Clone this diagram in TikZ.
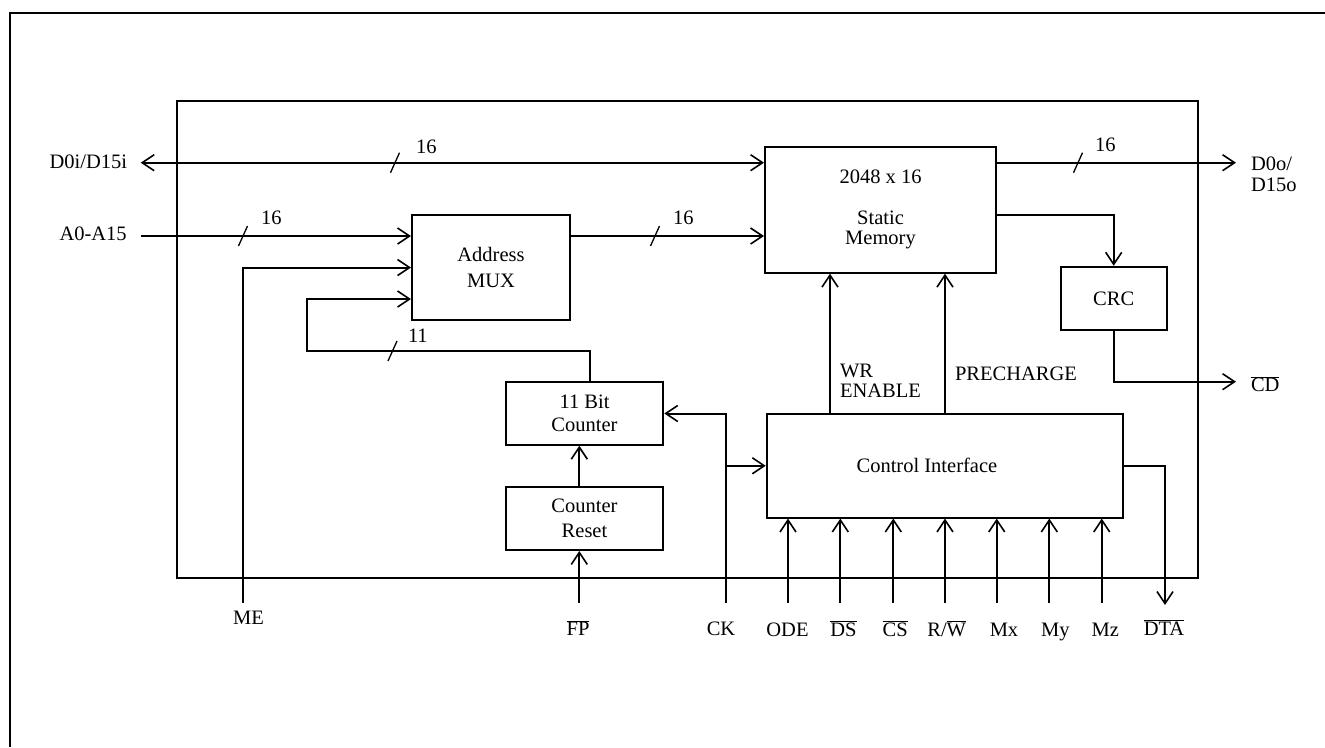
\documentclass[tikz,border=0pt]{standalone}
\usepackage{fontspec}
\setmainfont{Liberation Serif}
\usetikzlibrary{arrows.meta}
\begin{document}
\begin{tikzpicture}[x=1pt,y=-1pt,
  line width=2pt,
  >={Straight Barb[length=12pt,width=16pt,line width=1.6pt]},
  blk/.style={draw, rectangle, inner sep=0pt, align=center, font=\fontsize{20.5}{23}\selectfont},
  txt/.style={inner sep=0pt, font=\fontsize{20.5}{23}\selectfont},
  busslash/.pic={\draw[line width=1.3pt] (-4.5,10) -- (4.5,-10);},
]
\useasboundingbox (0,0) rectangle (1325,747);
% outer frame
\draw[line width=2pt] (10,747) -- (10,13) -- (1325,13);
% chip outline
\node[draw, inner sep=0pt, minimum width=1021, minimum height=477, anchor=north west] (chip) at (176,100) {};
% blocks
\node[blk, font=\fontsize{20.5}{20.7}\selectfont, minimum width=231, minimum height=126] (mem) at (880.5,209.7) {2048 x 16\\[19.5pt]Static\\Memory};
\node[blk, font=\fontsize{20.5}{26.7}\selectfont, minimum width=158, minimum height=105] (mux) at (491,267.5) {Address\\MUX};
\node[blk, font=\fontsize{20.5}{23.4}\selectfont, minimum width=157.6, minimum height=62.4] (cnt) at (584.5,413.5) {11 Bit\\Counter};
\node[blk, font=\fontsize{20.5}{25}\selectfont, minimum width=157.6, minimum height=63] (rst) at (584.5,518.5) {Counter\\Reset};
\node[blk, minimum width=106, minimum height=63.3] (crc) at (1113.7,298.4) {CRC};
\node[blk, minimum width=356.3, minimum height=103.5] (ci) at (944.9,465.8) {Control Interface\hspace*{36pt}};
% outside labels
\node[txt, anchor=base east] (ld0i) at (128,168.3) {D0i/D15i};
\node[txt, anchor=base east] (la0) at (127.7,240.7) {A0-A15};
\node[txt, anchor=north west, align=left, font=\fontsize{20.5}{20.7}\selectfont] (ld0o) at (1250,156) {D0o/\\D15o};
\node[txt, anchor=base west] (lcd) at (1250,391.7) {$\overline{\hbox{CD}}$};
\node[txt, anchor=base] (lme) at (248.5,624) {ME};
\node[txt, anchor=base] (lfp) at (578,635.7) {$\overline{\hbox{FP}}$};
\node[txt, anchor=base] (lck) at (721,635.7) {CK};
\node[txt, anchor=base] (lode) at (787.5,636) {ODE};
\node[txt, anchor=base] (lds) at (843.5,636) {$\overline{\hbox{DS}}$};
\node[txt, anchor=base] (lcs) at (895.2,636) {$\overline{\hbox{CS}}$};
\node[txt, anchor=base] (lrw) at (946.7,636) {R/$\overline{\hbox{W}}$};
\node[txt, anchor=base] (lmx) at (1004,636) {Mx};
\node[txt, anchor=base] (lmy) at (1055.3,636) {My};
\node[txt, anchor=base] (lmz) at (1105.3,636) {Mz};
\node[txt, anchor=base] (ldta) at (1164,635) {$\overline{\hbox{DTA}}$};
\node[txt, anchor=north west, align=left, font=\fontsize{20.5}{20}\selectfont] (lwr) at (839,363) {WR\\ENABLE};
\node[txt, anchor=base west] (lpre) at (954,380) {PRECHARGE};
% bus width labels
\node[txt, anchor=base west] (w1) at (415,153.3) {16};
\node[txt, anchor=base west] (w2) at (260,224) {16};
\node[txt, anchor=base west] (w3) at (672,224) {16};
\node[txt, anchor=base west] (w4) at (407,342.7) {11};
\node[txt, anchor=base west] (w5) at (1094,151.7) {16};
% free ends
\coordinate (d0i) at (140.7,162.7);
\coordinate (d0o) at (1236,162.7);
\coordinate (a0) at (141,236);
\coordinate (me) at (243.3,602.7);
\coordinate (fb) at (306.7,351);
\coordinate (fp) at (579.3,602.7);
\coordinate (ck) at (726,602.7);
\coordinate (cd) at (1236,381.7);
\coordinate (dta) at (1165,605);
\coordinate (wr) at (830,0);
\coordinate (pre) at (945,0);
\coordinate (iode) at (788,602.7);
\coordinate (ids) at (840.3,602.7);
\coordinate (ics) at (893.3,602.7);
\coordinate (irw) at (945,602.7);
\coordinate (imx) at (996.7,602.7);
\coordinate (imy) at (1049.3,602.7);
\coordinate (imz) at (1101.7,602.7);
% connectors
\draw[<->] (d0i) -- (mem.west |- d0i);
\draw[->] (mem.east |- d0o) -- (d0o);
\draw[->] (a0) -- (mux.west |- a0);
\draw[->] (mux.east |- a0) -- (mem.west |- a0);
\draw[->] (me) |- (mux.west);
\draw[->] ([xshift=5.5pt]cnt.north) |- (fb) |- ([yshift=-31.5pt]mux.west);
\draw[->] ([xshift=-5.2pt]rst.north) -- ([xshift=-5.2pt]cnt.south);
\draw[->] (fp) -- (fp |- rst.south);
\draw[->] (ck) |- (cnt.east);
\draw[->] (ck |- ci.west) -- (ci.west);
\foreach \c in {iode,ids,ics,irw,imx,imy,imz}{\draw[->] (\c) -- (\c |- ci.south);}
\draw[->] (ci.east) -| (dta);
\draw[->] (wr |- ci.north) -- (wr |- mem.south);
\draw[->] (pre |- ci.north) -- (pre |- mem.south);
\draw[->] ([yshift=-5.3pt]mem.east) -| (crc.north);
\draw[->] (crc.south) |- (cd);
% bus slashes
\pic at (395,162.7) {busslash};
\pic at (243,236) {busslash};
\pic at (655,236) {busslash};
\pic at (392.5,351) {busslash};
\pic at (1078,162.7) {busslash};
\end{tikzpicture}
\end{document}
